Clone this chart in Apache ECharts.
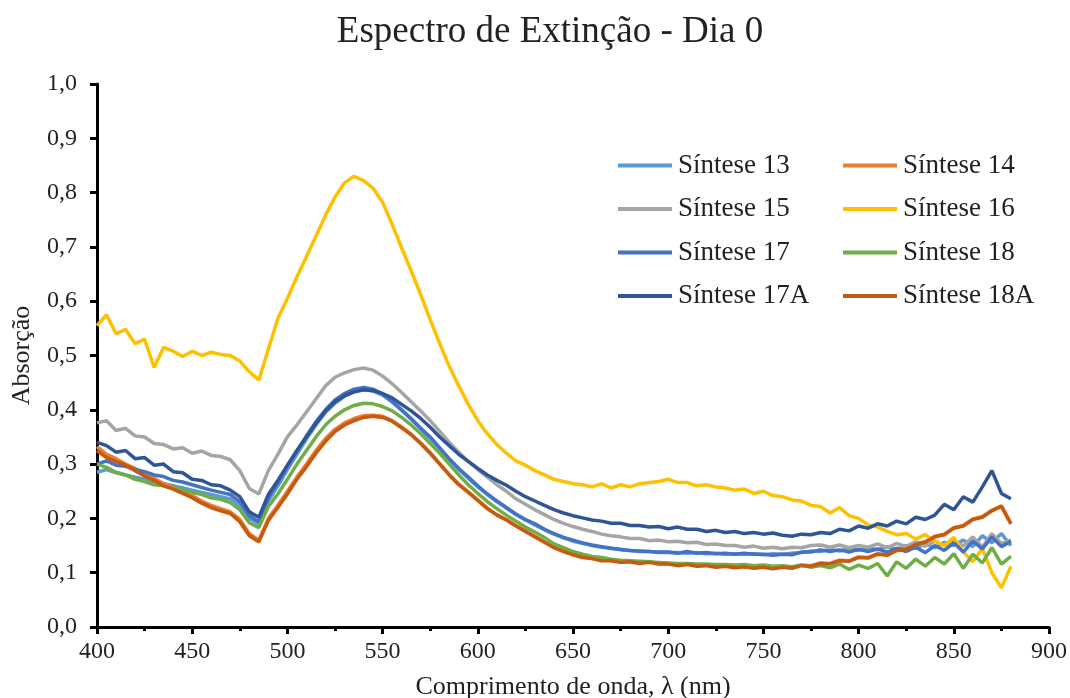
<!DOCTYPE html>
<html>
<head>
<meta charset="utf-8">
<script src="https://cdn.jsdelivr.net/npm/echarts@6/dist/echarts.min.js"></script>
<style>
html,body{margin:0;padding:0;background:#fff;}
#chart{width:1070px;height:698px;}
</style>
</head>
<body>
<div id="chart"></div>
<script>
const wavelengths = [
400,405,410,415,420,425,430,435,440,445,
450,455,460,465,470,475,480,485,490,495,
500,505,510,515,520,525,530,535,540,545,
550,555,560,565,570,575,580,585,590,595,
600,605,610,615,620,625,630,635,640,645,
650,655,660,665,670,675,680,685,690,695,
700,705,710,715,720,725,730,735,740,745,
750,755,760,765,770,775,780,785,790,795,
800,805,810,815,820,825,830,835,840,845,
850,855,860,865,870,875,880];

const seriesNames = ['Síntese 13','Síntese 14','Síntese 15','Síntese 16','Síntese 17','Síntese 18','Síntese 17A','Síntese 18A'];
const seriesColors = ['#5B9BD5','#ED7D31','#A5A5A5','#FFC000','#4472C4','#70AD47','#2F5597','#C55A11'];

const s13 = [
0.285,0.290,0.284,0.280,0.276,0.272,0.268,0.264,0.260,0.256,
0.252,0.248,0.244,0.240,0.236,0.224,0.200,0.190,0.232,0.260,
0.290,0.318,0.346,0.372,0.395,0.412,0.425,0.433,0.437,0.435,
0.427,0.414,0.399,0.382,0.365,0.347,0.328,0.308,0.290,0.274,
0.258,0.244,0.231,0.219,0.207,0.197,0.188,0.179,0.171,0.164,
0.158,0.154,0.150,0.147,0.145,0.142,0.141,0.139,0.139,0.137,
0.137,0.137,0.136,0.137,0.135,0.136,0.134,0.135,0.134,0.135,
0.133,0.135,0.134,0.136,0.137,0.140,0.139,0.143,0.140,0.144,
0.141,0.146,0.142,0.148,0.143,0.150,0.145,0.153,0.146,0.156,
0.150,0.160,0.148,0.168,0.155,0.172,0.150];

const s14 = [
0.332,0.318,0.310,0.300,0.292,0.282,0.274,0.264,0.258,0.250,
0.242,0.232,0.224,0.218,0.212,0.198,0.172,0.160,0.200,0.224,
0.250,0.276,0.300,0.325,0.347,0.364,0.376,0.384,0.389,0.390,
0.388,0.380,0.368,0.355,0.339,0.321,0.301,0.281,0.263,0.249,
0.234,0.219,0.207,0.198,0.187,0.177,0.167,0.157,0.147,0.140,
0.134,0.129,0.127,0.123,0.123,0.120,0.121,0.118,0.120,0.117,
0.117,0.114,0.116,0.113,0.114,0.111,0.113,0.110,0.112,0.109,
0.111,0.108,0.111,0.109,0.114,0.113,0.118,0.117,0.123,0.122,
0.129,0.128,0.135,0.133,0.142,0.144,0.153,0.157,0.167,0.171,
0.183,0.187,0.199,0.203,0.215,0.223,0.191];

const s15 = [
0.376,0.380,0.362,0.366,0.352,0.350,0.338,0.336,0.328,0.330,
0.320,0.324,0.316,0.314,0.308,0.288,0.255,0.245,0.288,0.318,
0.350,0.372,0.396,0.420,0.444,0.460,0.468,0.474,0.477,0.473,
0.462,0.448,0.432,0.415,0.398,0.380,0.360,0.340,0.322,0.305,
0.290,0.276,0.262,0.250,0.236,0.226,0.216,0.207,0.198,0.191,
0.185,0.180,0.176,0.171,0.168,0.166,0.163,0.163,0.159,0.160,
0.157,0.158,0.155,0.156,0.152,0.153,0.150,0.150,0.147,0.149,
0.145,0.147,0.144,0.147,0.146,0.150,0.151,0.147,0.151,0.146,
0.150,0.147,0.153,0.146,0.154,0.148,0.157,0.149,0.158,0.150,
0.161,0.149,0.166,0.147,0.172,0.154,0.160];

const s16 = [
0.555,0.575,0.540,0.548,0.522,0.530,0.478,0.515,0.508,0.498,
0.508,0.500,0.506,0.502,0.500,0.490,0.470,0.455,0.512,0.568,
0.605,0.645,0.682,0.720,0.758,0.792,0.818,0.830,0.822,0.808,
0.782,0.742,0.698,0.656,0.612,0.566,0.522,0.480,0.444,0.410,
0.380,0.356,0.336,0.320,0.306,0.298,0.288,0.280,0.272,0.268,
0.264,0.262,0.258,0.264,0.256,0.262,0.258,0.264,0.266,0.268,
0.272,0.266,0.266,0.260,0.262,0.258,0.256,0.252,0.254,0.246,
0.250,0.242,0.240,0.234,0.232,0.224,0.222,0.210,0.220,0.205,
0.200,0.188,0.184,0.176,0.170,0.172,0.162,0.170,0.158,0.150,
0.165,0.138,0.120,0.145,0.100,0.072,0.112];

const s17 = [
0.300,0.306,0.298,0.296,0.290,0.286,0.280,0.277,0.270,0.267,
0.262,0.257,0.252,0.248,0.244,0.231,0.205,0.194,0.238,0.266,
0.296,0.324,0.352,0.378,0.400,0.418,0.430,0.438,0.441,0.438,
0.429,0.416,0.400,0.384,0.366,0.350,0.330,0.310,0.292,0.276,
0.260,0.245,0.232,0.220,0.208,0.198,0.190,0.180,0.172,0.165,
0.160,0.155,0.151,0.148,0.145,0.143,0.141,0.140,0.139,0.138,
0.138,0.136,0.139,0.136,0.137,0.135,0.136,0.134,0.136,0.134,
0.134,0.132,0.134,0.133,0.138,0.138,0.142,0.139,0.142,0.138,
0.143,0.139,0.144,0.138,0.145,0.139,0.147,0.137,0.150,0.141,
0.155,0.138,0.158,0.144,0.166,0.148,0.158];

const s18 = [
0.300,0.294,0.285,0.280,0.272,0.268,0.262,0.260,0.255,0.252,
0.248,0.244,0.238,0.235,0.229,0.216,0.192,0.183,0.222,0.245,
0.272,0.300,0.325,0.350,0.372,0.388,0.400,0.408,0.412,0.411,
0.406,0.398,0.386,0.372,0.356,0.338,0.320,0.300,0.280,0.262,
0.246,0.231,0.218,0.206,0.195,0.184,0.175,0.165,0.153,0.146,
0.139,0.134,0.130,0.128,0.125,0.123,0.122,0.121,0.120,0.119,
0.118,0.117,0.117,0.116,0.116,0.115,0.115,0.114,0.115,0.113,
0.114,0.112,0.113,0.111,0.114,0.110,0.113,0.109,0.116,0.106,
0.114,0.108,0.117,0.094,0.120,0.108,0.125,0.112,0.128,0.116,
0.135,0.108,0.134,0.118,0.146,0.116,0.130];

const s17A = [
0.340,0.334,0.322,0.325,0.310,0.312,0.298,0.300,0.286,0.284,
0.272,0.270,0.262,0.260,0.252,0.240,0.212,0.202,0.244,0.270,
0.298,0.325,0.350,0.375,0.398,0.415,0.426,0.433,0.437,0.435,
0.430,0.422,0.410,0.398,0.384,0.368,0.350,0.334,0.318,0.305,
0.292,0.280,0.270,0.261,0.250,0.240,0.232,0.224,0.216,0.210,
0.205,0.201,0.197,0.195,0.191,0.191,0.187,0.187,0.184,0.185,
0.181,0.184,0.180,0.180,0.176,0.178,0.174,0.176,0.172,0.174,
0.171,0.173,0.169,0.167,0.171,0.170,0.174,0.172,0.180,0.177,
0.186,0.182,0.190,0.186,0.195,0.190,0.202,0.198,0.206,0.226,
0.216,0.240,0.230,0.258,0.288,0.246,0.236];

const s18A = [
0.325,0.312,0.305,0.298,0.288,0.278,0.270,0.260,0.254,0.246,
0.238,0.228,0.220,0.214,0.209,0.194,0.168,0.157,0.196,0.220,
0.245,0.272,0.295,0.320,0.342,0.360,0.372,0.380,0.386,0.388,
0.386,0.379,0.367,0.354,0.338,0.320,0.300,0.280,0.262,0.248,
0.233,0.218,0.206,0.197,0.186,0.176,0.166,0.156,0.146,0.139,
0.133,0.128,0.126,0.122,0.122,0.119,0.120,0.117,0.119,0.116,
0.116,0.113,0.115,0.112,0.113,0.110,0.112,0.109,0.111,0.108,
0.110,0.107,0.110,0.108,0.113,0.112,0.117,0.116,0.122,0.121,
0.128,0.127,0.134,0.132,0.141,0.143,0.152,0.156,0.166,0.170,
0.182,0.186,0.198,0.202,0.214,0.222,0.190];

const seriesValues = [s13, s14, s15, s16, s17, s18, s17A, s18A];

const FONT = '"Liberation Serif", "Times New Roman", serif';
const TXT = '#222';

const chart = echarts.init(document.getElementById('chart'), null, {renderer: 'canvas'});

const series = seriesNames.map((name, k) => ({
  name: name,
  type: 'line',
  showSymbol: false,
  symbol: 'none',
  lineStyle: {width: 3.5, color: seriesColors[k]},
  itemStyle: {color: seriesColors[k]},
  data: wavelengths.map((w, i) => [w, seriesValues[k][i]]),
  animation: false,
  z: 2 + k
}));

const legendBase = {
  orient: 'vertical',
  icon: 'rect',
  itemWidth: 54,
  itemHeight: 4,
  itemGap: 16.5,
  padding: 0,
  textStyle: {fontFamily: FONT, fontSize: 27, color: TXT, lineHeight: 24, padding: [0,0,0,1]},
  selectedMode: false
};

chart.setOption({
  backgroundColor: '#fff',
  animation: false,
  title: {
    text: 'Espectro de Extinção - Dia 0',
    left: 545,
    top: 9,
    textAlign: 'center',
    textStyle: {fontFamily: FONT, fontSize: 37, fontWeight: 'normal', color: TXT}
  },
  legend: [
    Object.assign({}, legendBase, {left: 618, top: 152, data: ['Síntese 13','Síntese 15','Síntese 17','Síntese 17A']}),
    Object.assign({}, legendBase, {left: 843, top: 152, data: ['Síntese 14','Síntese 16','Síntese 18','Síntese 18A']})
  ],
  grid: {left: 97, right: 21, top: 84, bottom: 71, containLabel: false, outerBoundsMode: 'none'},
  xAxis: {
    type: 'value',
    min: 400, max: 900, interval: 50,
    name: 'Comprimento de onda, λ (nm)',
    nameLocation: 'middle',
    nameGap: 47,
    nameTextStyle: {fontFamily: FONT, fontSize: 26, color: TXT},
    axisLine: {show: true, lineStyle: {color: '#000', width: 3}},
    axisTick: {show: true, length: 7, lineStyle: {color: '#000', width: 3}},
    minorTick: {show: true, splitNumber: 2, length: 4, lineStyle: {color: '#000', width: 3}},
    axisLabel: {fontFamily: FONT, fontSize: 24, color: TXT, margin: 13},
    splitLine: {show: false}
  },
  yAxis: {
    type: 'value',
    min: 0, max: 1, interval: 0.1,
    name: 'Absorção',
    nameLocation: 'middle',
    nameGap: 62,
    nameRotate: 90,
    nameTextStyle: {fontFamily: FONT, fontSize: 26, color: TXT},
    axisLine: {show: true, lineStyle: {color: '#000', width: 3}},
    axisTick: {show: true, length: 7, lineStyle: {color: '#000', width: 3}},
    axisLabel: {fontFamily: FONT, fontSize: 24, color: TXT, margin: 20,
      formatter: v => v.toFixed(1).replace('.', ',')},
    splitLine: {show: false}
  },
  series: series
});
</script>
</body>
</html>
